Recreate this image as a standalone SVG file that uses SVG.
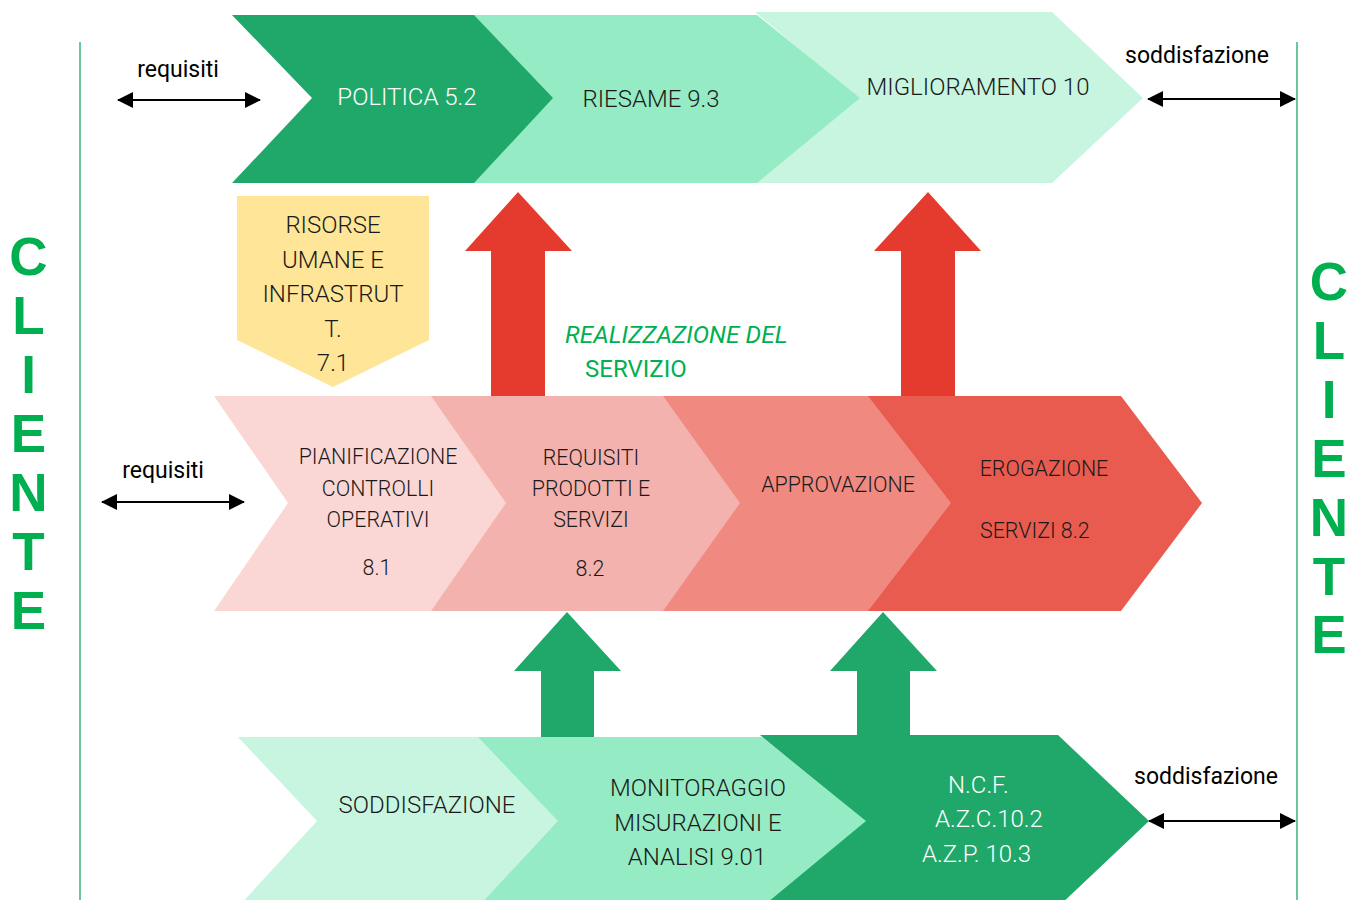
<svg xmlns="http://www.w3.org/2000/svg" width="1347" height="900" viewBox="0 0 1347 900">
<defs>
<marker id="ah" viewBox="0 0 16 16" refX="15" refY="8" markerWidth="16" markerHeight="16" markerUnits="userSpaceOnUse" orient="auto-start-reverse">
<path d="M0,0 L16,8 L0,16 Z" fill="#000"/>
</marker>
<style>
.t{font-family:Roboto,"Liberation Sans",sans-serif;font-weight:300;fill:#1a1a1a;}
.w{fill:#ffffff;}
.s24{font-size:24px;}
.s21{font-size:21.4px;}
.lab{font-family:Roboto,"Liberation Sans",sans-serif;font-weight:400;font-size:23px;fill:#000;}
.cl{font-family:"Liberation Sans",Arial,sans-serif;font-weight:bold;font-size:53px;fill:#00b050;text-anchor:middle;}
.g1{fill:#20a86a;}
.g2{fill:#95ebc3;}
.g3{fill:#c8f5e0;}
.p1{fill:#fad7d5;}
.p2{fill:#f4b2ae;}
.p3{fill:#f08a81;}
.p4{fill:#e95b4e;}
.red{fill:#e53b2f;}
.vl{stroke:#4cb882;stroke-width:1.6;}
.ar{stroke:#000;stroke-width:2;fill:none;marker-start:url(#ah);marker-end:url(#ah);}
</style>
</defs>
<rect width="1347" height="900" fill="#ffffff"/>

<g id="borders">
<line class="vl" x1="80" y1="42" x2="80" y2="900"/>
<line class="vl" x1="1297" y1="42" x2="1297" y2="900"/>
</g>

<!-- top row -->
<g id="miglioramento">
<polygon class="g3" points="755,12 1052,12 1143,98 1052,183 755,183 858,98"/>
<text class="t s24" x="978" y="95" text-anchor="middle">MIGLIORAMENTO 10</text>
</g>
<g id="riesame">
<polygon class="g2" points="472,15 757,15 860,98 757,183 472,183 551,98"/>
<text class="t s24" x="651" y="106.5" text-anchor="middle">RIESAME 9.3</text>
</g>
<g id="politica">
<polygon class="g1" points="232,15 474,15 553,98 474,183 232,183 312,98"/>
<text class="t s24 w" x="407" y="105" text-anchor="middle">POLITICA 5.2</text>
</g>

<!-- risorse -->
<g id="risorse">
<polygon fill="#fee597" points="237,196 429,196 429,340 333,387 237,340"/>
<text class="t s24" text-anchor="middle"><tspan x="333" y="233">RISORSE</tspan><tspan x="333" y="268">UMANE E</tspan><tspan x="333" y="302">INFRASTRUT</tspan><tspan x="333" y="337">T.</tspan><tspan x="333" y="371">7.1</tspan></text>
</g>

<g id="realizzazione">
<text font-family="Roboto, 'Liberation Sans', sans-serif" font-size="24.5" font-style="italic" fill="#00b050" x="565" y="343">REALIZZAZIONE DEL</text>
<text font-family="Roboto, 'Liberation Sans', sans-serif" font-size="24" fill="#00b050" x="585" y="377">SERVIZIO</text>
</g>

<!-- middle row -->
<g id="erogazione">
<polygon class="p4" points="866,396 1121,396 1202,503 1121,611 866,611 949,503"/>
<text class="t s21" x="1044" y="475.5" text-anchor="middle">EROGAZIONE</text>
<text class="t s21" x="980" y="537.5">SERVIZI 8.2</text>
</g>
<g id="approvazione">
<polygon class="p3" points="661,396 868,396 951,503 868,611 661,611 738,503"/>
<text class="t s21" x="838" y="491.5" text-anchor="middle">APPROVAZIONE</text>
</g>
<g id="requisiti-prodotti">
<polygon class="p2" points="429,396 663,396 740,503 663,611 429,611 504,503"/>
<text class="t s21" text-anchor="middle"><tspan x="591" y="464.5">REQUISITI</tspan><tspan x="591" y="495.5">PRODOTTI E</tspan><tspan x="591" y="526.5">SERVIZI</tspan><tspan x="590" y="575.5">8.2</tspan></text>
</g>
<g id="pianificazione">
<polygon class="p1" points="214,396 431,396 506,503 431,611 214,611 288,503"/>
<text class="t s21" text-anchor="middle"><tspan x="378" y="463.5">PIANIFICAZIONE</tspan><tspan x="378" y="495.5">CONTROLLI</tspan><tspan x="378" y="526.5">OPERATIVI</tspan><tspan x="377" y="574.5">8.1</tspan></text>
</g>

<!-- bottom row -->
<g id="ncf">
<polygon class="g1" points="760,735 1058,735 1149,821 1058,907 760,907 864,821"/>
<text class="t s24 w"><tspan x="948" y="792.5">N.C.F.</tspan><tspan x="935" y="826.5">A.Z.C.10.2</tspan><tspan x="922" y="861.5">A.Z.P. 10.3</tspan></text>
</g>
<g id="monitoraggio">
<polygon class="g2" points="476,737 762,737 866,821 762,907 476,907 556,821"/>
<text class="t s24" text-anchor="middle"><tspan x="698" y="795.5">MONITORAGGIO</tspan><tspan x="698" y="830.5">MISURAZIONI E</tspan><tspan x="697" y="864.5">ANALISI 9.01</tspan></text>
</g>
<g id="soddisfazione-box">
<polygon class="g3" points="238,737 478,737 558,821 478,907 238,907 317,821"/>
<text class="t s24" x="427" y="812.5" text-anchor="middle">SODDISFAZIONE</text>
</g>

<g id="connectors">
<polygon class="red" points="518,192 572,251 545,251 545,396 491,396 491,251 465,251"/>
<polygon class="red" points="928,192 981,251 955,251 955,396 901,396 901,251 874,251"/>
<polygon class="g1" points="567,612 621,671 594,671 594,737 541,737 541,671 514,671"/>
<polygon class="g1" points="883,612 937,671 910,671 910,736 857,736 857,671 830,671"/>
<line class="ar" x1="118" y1="100" x2="260" y2="100"/>
<line class="ar" x1="102" y1="502" x2="244" y2="502"/>
<line class="ar" x1="1148" y1="99" x2="1295" y2="99"/>
<line class="ar" x1="1149" y1="821" x2="1295" y2="821"/>
</g>

<g id="labels">
<text class="lab" x="178" y="77" text-anchor="middle">requisiti</text>
<text class="lab" x="163" y="478" text-anchor="middle">requisiti</text>
<text class="lab" x="1197" y="63" text-anchor="middle">soddisfazione</text>
<text class="lab" x="1206" y="784" text-anchor="middle">soddisfazione</text>
</g>

<g id="cliente-left">
<text class="cl" x="28.5" y="275">C</text>
<text class="cl" x="28.5" y="334">L</text>
<text class="cl" x="28.5" y="393">I</text>
<text class="cl" x="28.5" y="452">E</text>
<text class="cl" x="28.5" y="511">N</text>
<text class="cl" x="28.5" y="570">T</text>
<text class="cl" x="28.5" y="629">E</text>
</g>
<g id="cliente-right">
<text class="cl" x="1329" y="300">C</text>
<text class="cl" x="1329" y="359">L</text>
<text class="cl" x="1329" y="418">I</text>
<text class="cl" x="1329" y="477">E</text>
<text class="cl" x="1329" y="536">N</text>
<text class="cl" x="1329" y="595">T</text>
<text class="cl" x="1329" y="653">E</text>
</g>
</svg>
